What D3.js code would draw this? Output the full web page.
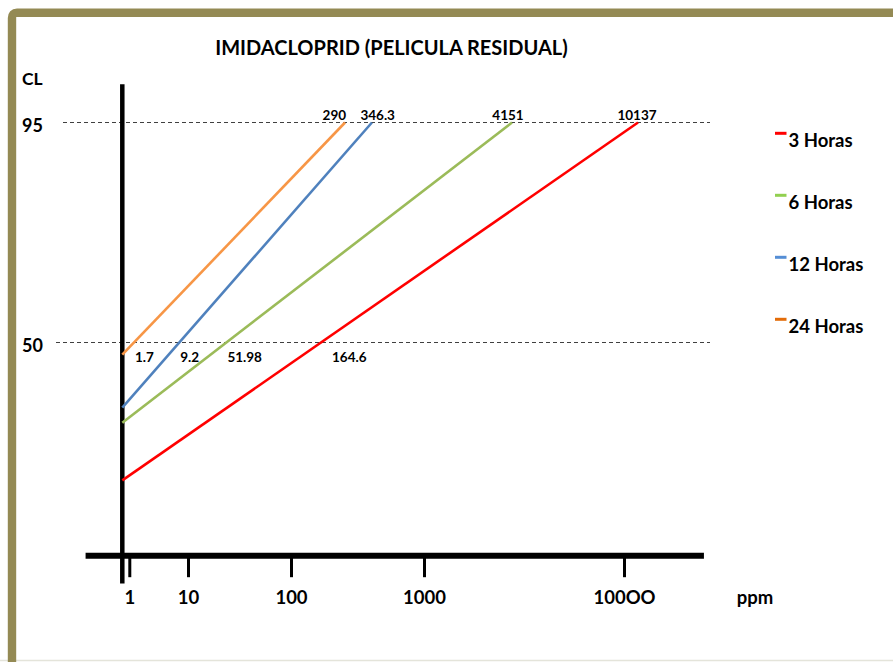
<!DOCTYPE html>
<html>
<head>
<meta charset="utf-8">
<script src="https://cdn.jsdelivr.net/npm/d3@7"></script>
<style>
  html, body { margin: 0; padding: 0; background: #fff; }
  svg { display: block; font-family: Lato, "Open Sans", sans-serif; font-weight: bold; }
</style>
</head>
<body>
<div id="chart"></div>
<script>
// chart values
const series = ['3 Horas', '6 Horas', '12 Horas', '24 Horas'];
const startCL = [21.8, 33.6, 36.7, 47.5];      // CL where each line leaves the y axis
const endPpm = [11750, 2754, 406, 255];         // ppm where each line reaches CL 95
const axisPpm = 0.76;                            // ppm at the y axis
const label50 = ['164.6', '51.98', '9.2', '1.7'];
const label95 = ['10137', '4151', '346.3', '290'];
const xTickValues = [1, 10, 100, 1000, 10000];
const xTickLabels = ['1', '10', '100', '1000', '100OO'];
const yTickValues = [95, 50];

const lineColors = ['#ff0000', '#9bbb59', '#4f81bd', '#f79646'];
const legendColors = ['#ff0000', '#92d050', '#558ed5', '#e36c09'];

const width = 893, height = 662;

const svg = d3.select('#chart').append('svg')
    .attr('width', width)
    .attr('height', height);

// frame
svg.append('line')
    .attr('x1', 0).attr('x2', width)
    .attr('y1', 660.5).attr('y2', 660.5)
    .attr('stroke', '#e4e4da').attr('stroke-width', 1.5);
svg.append('path')
    .attr('d', `M12,662 L12,18 Q12,12.7 17,12.7 L${width},12.7`)
    .attr('fill', 'none')
    .attr('stroke', '#948a54')
    .attr('stroke-width', 8.4);

// scales: the printed x axis is spaced by hand, so map log10(ppm) piecewise
const xPos = d3.scaleLinear()
    .domain(xTickValues.map(Math.log10))
    .range([129.3, 188, 291, 424, 624]);
const x = v => xPos(Math.log10(v));
const y = d3.scaleLinear().domain([50, 95]).range([342.5, 122.5]);

// dashed reference lines
const gridStart = {95: 63, 50: 56};
svg.append('g').selectAll('line')
    .data(yTickValues)
    .join('line')
    .attr('x1', d => gridStart[d])
    .attr('x2', 710)
    .attr('y1', d => y(d))
    .attr('y2', d => y(d))
    .attr('stroke', '#404040')
    .attr('stroke-width', 1)
    .attr('stroke-dasharray', '4,3');

svg.append('g').selectAll('text')
    .data(yTickValues)
    .join('text')
    .attr('x', 32.5)
    .attr('y', d => y(d) + 9.5)
    .attr('text-anchor', 'middle')
    .attr('font-size', 18)
    .text(d => d);

// x axis
const xAxisY = 555.7;
const xAxis = d3.axisBottom(xPos)
    .tickValues(xTickValues.map(Math.log10))
    .tickFormat((d, i) => xTickLabels[i])
    .tickSize(21.5)
    .tickSizeOuter(0);

const gx = svg.append('g')
    .attr('transform', `translate(0,${xAxisY})`)
    .call(xAxis);
gx.select('.domain').remove();
gx.selectAll('.tick line').attr('stroke', '#000').attr('stroke-width', 3);
gx.selectAll('.tick text')
    .attr('y', 48.5)
    .attr('dy', 0)
    .attr('fill', '#000')
    .attr('font-size', 18.5)
    .attr('font-family', 'Lato, sans-serif')
    .attr('font-weight', 'bold');

svg.append('line')
    .attr('x1', x(0.18)).attr('x2', x(25100))
    .attr('y1', xAxisY).attr('y2', xAxisY)
    .attr('stroke', '#000')
    .attr('stroke-width', 6);

// y axis
svg.append('line')
    .attr('x1', x(axisPpm)).attr('x2', x(axisPpm))
    .attr('y1', y(102.8)).attr('y2', y(0.7))
    .attr('stroke', '#000')
    .attr('stroke-width', 4.5);

// series lines
const lines = series.map((s, i) => ({
    name: s,
    color: lineColors[i],
    pts: [[axisPpm, startCL[i]], [endPpm[i], 95]]
}));

const lineGen = d3.line().x(d => x(d[0])).y(d => y(d[1]));

svg.append('g').selectAll('path')
    .data(lines)
    .join('path')
    .attr('d', d => lineGen(d.pts))
    .attr('fill', 'none')
    .attr('stroke', d => d.color)
    .attr('stroke-width', 2.6);

// value labels where lines cross CL 50 and reach CL 95
const cross50 = i => {
    const x0 = x(axisPpm), y0 = y(startCL[i]);
    const x1 = x(endPpm[i]), y1 = y(95);
    return x0 + (y(50) - y0) / (y1 - y0) * (x1 - x0);
};
const dx50 = [11, 1, 1, 1];
svg.append('g').selectAll('text')
    .data(label50)
    .join('text')
    .attr('x', (d, i) => cross50(i) + dx50[i])
    .attr('y', 361.5)
    .attr('font-size', 13.5)
    .text(d => d);

const dx95 = [-1, -4, -11.5, 1];
const anchor95 = ['middle', 'middle', 'start', 'end'];
svg.append('g').selectAll('text')
    .data(label95)
    .join('text')
    .attr('x', (d, i) => x(endPpm[i]) + dx95[i])
    .attr('y', 119.5)
    .attr('text-anchor', (d, i) => anchor95[i])
    .attr('font-size', 13.5)
    .text(d => d);

// titles
svg.append('text')
    .attr('x', 391.5).attr('y', 55)
    .attr('text-anchor', 'middle')
    .attr('font-size', 20)
    .text('IMIDACLOPRID (PELICULA RESIDUAL)');

svg.append('text')
    .attr('x', 22).attr('y', 84.5)
    .attr('font-size', 17.5)
    .text('CL');

svg.append('text')
    .attr('x', 755).attr('y', 604)
    .attr('text-anchor', 'middle')
    .attr('font-size', 18.5)
    .text('ppm');

// legend
const legend = svg.append('g').selectAll('g')
    .data(series)
    .join('g')
    .attr('transform', (d, i) => `translate(775,${133.3 + i * 62})`);
legend.append('line')
    .attr('x1', 0).attr('x2', 11.5)
    .attr('stroke', (d, i) => legendColors[i])
    .attr('stroke-width', 3);
legend.append('text')
    .attr('x', 13.5).attr('y', 13.3)
    .attr('font-size', 18.5)
    .text(d => d);
</script>
</body>
</html>
